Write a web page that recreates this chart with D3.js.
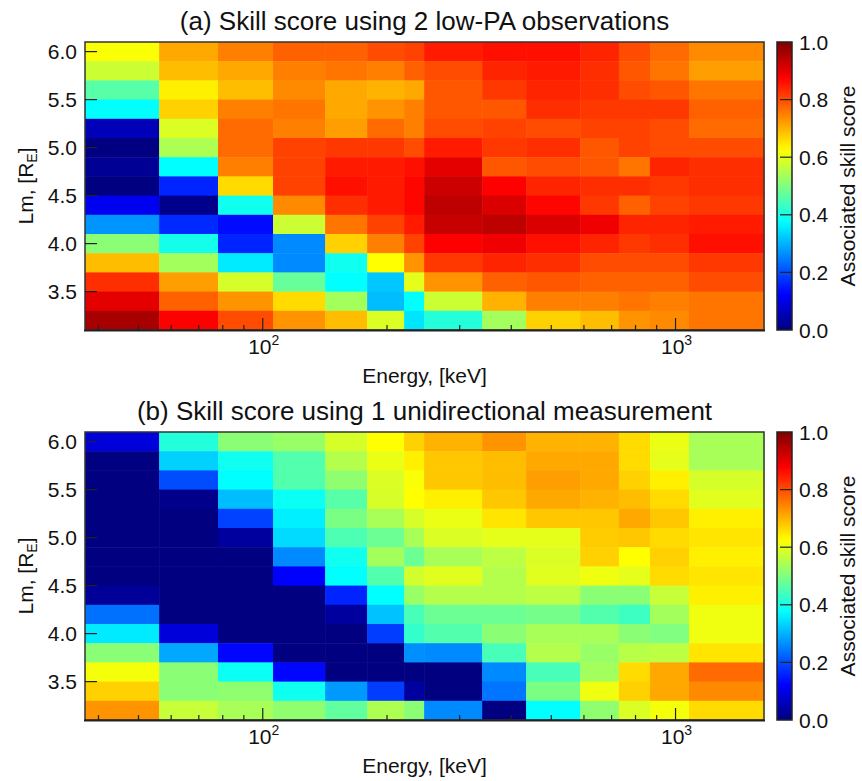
<!DOCTYPE html>
<html>
<head>
<meta charset="utf-8">
<script src="https://cdn.jsdelivr.net/npm/d3@7"></script>
<style>
  html, body { margin: 0; padding: 0; background: #fff; }
  svg text { font-family: "Liberation Sans", Arial, Helvetica, sans-serif; fill: #111; }
</style>
</head>
<body>
<svg id="chart" width="862" height="781"></svg>
<script>
// Energy bin edges [keV] (log axis)
const energyEdges = [37.1, 56.1, 77.9, 105.9, 141.6, 179, 220, 246, 340, 434.5, 587.5, 729, 867, 1078, 1638];
// Lm bin edges, top to bottom [R_E]
const lmEdges = [6.1, 5.9, 5.7, 5.5, 5.3, 5.1, 4.9, 4.7, 4.5, 4.3, 4.1, 3.9, 3.7, 3.5, 3.3, 3.1];
const yTicks = [3.5, 4.0, 4.5, 5.0, 5.5, 6.0];
const xMajorTicks = [100, 1000];
const xMajorLabels = ["2", "3"];
const xMinorTicks = [40, 50, 60, 70, 80, 90, 200, 300, 400, 500, 600, 700, 800, 900];
const cbTicks = [0.0, 0.2, 0.4, 0.6, 0.8, 1.0];
const titles = ["(a) Skill score using 2 low-PA observations", "(b) Skill score using 1 unidirectional measurement"];

// Panel (a) skill scores, rows top (Lm 6.0) to bottom (Lm 3.2)
const skillA = [
  [0.62, 0.71, 0.75, 0.78, 0.78, 0.80, 0.81, 0.85, 0.86, 0.86, 0.84, 0.80, 0.77, 0.74],
  [0.575, 0.69, 0.71, 0.75, 0.76, 0.75, 0.78, 0.80, 0.84, 0.85, 0.83, 0.79, 0.76, 0.72],
  [0.46, 0.64, 0.69, 0.74, 0.71, 0.70, 0.71, 0.79, 0.82, 0.84, 0.83, 0.80, 0.79, 0.76],
  [0.375, 0.67, 0.75, 0.76, 0.71, 0.73, 0.75, 0.79, 0.79, 0.83, 0.82, 0.82, 0.82, 0.78],
  [0.056, 0.59, 0.77, 0.75, 0.72, 0.77, 0.75, 0.80, 0.81, 0.80, 0.81, 0.81, 0.80, 0.77],
  [0.0, 0.545, 0.77, 0.81, 0.82, 0.82, 0.80, 0.85, 0.82, 0.83, 0.79, 0.81, 0.80, 0.80],
  [0.02, 0.375, 0.75, 0.81, 0.85, 0.85, 0.86, 0.90, 0.79, 0.80, 0.79, 0.76, 0.84, 0.83],
  [0.0, 0.16, 0.66, 0.81, 0.86, 0.85, 0.87, 0.925, 0.875, 0.84, 0.83, 0.83, 0.82, 0.83],
  [0.11, 0.01, 0.39, 0.74, 0.83, 0.85, 0.87, 0.94, 0.91, 0.87, 0.82, 0.78, 0.81, 0.82],
  [0.27, 0.165, 0.135, 0.575, 0.76, 0.81, 0.85, 0.93, 0.94, 0.91, 0.89, 0.84, 0.84, 0.85],
  [0.51, 0.395, 0.16, 0.26, 0.67, 0.75, 0.81, 0.875, 0.89, 0.86, 0.84, 0.82, 0.83, 0.86],
  [0.69, 0.535, 0.355, 0.26, 0.39, 0.625, 0.73, 0.82, 0.84, 0.83, 0.80, 0.80, 0.80, 0.82],
  [0.83, 0.72, 0.585, 0.475, 0.375, 0.32, 0.60, 0.73, 0.78, 0.79, 0.78, 0.78, 0.78, 0.80],
  [0.90, 0.78, 0.73, 0.66, 0.535, 0.31, 0.375, 0.575, 0.70, 0.75, 0.75, 0.76, 0.75, 0.76],
  [0.96, 0.875, 0.80, 0.73, 0.69, 0.59, 0.35, 0.41, 0.535, 0.67, 0.69, 0.73, 0.74, 0.76]
];
// Panel (b) skill scores, rows top (Lm 6.0) to bottom (Lm 3.2)
const skillB = [
  [0.09, 0.41, 0.51, 0.525, 0.585, 0.625, 0.67, 0.70, 0.73, 0.70, 0.70, 0.66, 0.605, 0.54],
  [0.0, 0.33, 0.39, 0.455, 0.55, 0.605, 0.64, 0.68, 0.69, 0.71, 0.71, 0.66, 0.60, 0.54],
  [0.0, 0.20, 0.375, 0.455, 0.515, 0.59, 0.62, 0.68, 0.69, 0.72, 0.71, 0.67, 0.64, 0.585],
  [0.0, 0.01, 0.31, 0.385, 0.46, 0.585, 0.625, 0.64, 0.68, 0.71, 0.70, 0.69, 0.66, 0.595],
  [0.0, 0.0, 0.19, 0.36, 0.495, 0.54, 0.585, 0.605, 0.65, 0.68, 0.68, 0.71, 0.68, 0.64],
  [0.0, 0.0, 0.03, 0.34, 0.45, 0.48, 0.54, 0.59, 0.60, 0.60, 0.675, 0.68, 0.66, 0.65],
  [0.0, 0.0, 0.0, 0.26, 0.39, 0.535, 0.48, 0.54, 0.56, 0.59, 0.67, 0.625, 0.67, 0.64],
  [0.0, 0.0, 0.0, 0.125, 0.375, 0.455, 0.58, 0.595, 0.55, 0.595, 0.61, 0.60, 0.66, 0.65],
  [0.025, 0.0, 0.0, 0.0, 0.16, 0.375, 0.525, 0.55, 0.55, 0.56, 0.51, 0.51, 0.57, 0.64],
  [0.235, 0.0, 0.0, 0.0, 0.03, 0.315, 0.445, 0.48, 0.48, 0.49, 0.455, 0.435, 0.535, 0.61],
  [0.355, 0.09, 0.0, 0.0, 0.0, 0.185, 0.425, 0.455, 0.51, 0.54, 0.54, 0.51, 0.50, 0.61],
  [0.51, 0.29, 0.13, 0.0, 0.0, 0.0, 0.265, 0.26, 0.445, 0.55, 0.525, 0.555, 0.56, 0.65],
  [0.615, 0.51, 0.385, 0.13, 0.0, 0.0, 0.0, 0.0, 0.26, 0.445, 0.535, 0.66, 0.71, 0.77],
  [0.67, 0.51, 0.515, 0.39, 0.275, 0.185, 0.03, 0.0, 0.24, 0.495, 0.61, 0.67, 0.71, 0.74],
  [0.73, 0.57, 0.54, 0.515, 0.47, 0.545, 0.51, 0.26, 0.0, 0.375, 0.515, 0.59, 0.615, 0.66]
];

// Jet colormap
function jet(t) {
  const c = v => Math.max(0, Math.min(1, v));
  const r = c(1.5 - Math.abs(4 * t - 3));
  const g = c(1.5 - Math.abs(4 * t - 2));
  const b = c(1.5 - Math.abs(4 * t - 1));
  return d3.rgb(r * 255, g * 255, b * 255).toString();
}
const color = d3.scaleSequential(jet).domain([0, 1]);

const svg = d3.select("#chart");
const W = { left: 85, right: 764, cbLeft: 777, cbRight: 792 };
const panels = [
  { top: 42, bottom: 330, data: skillA, title: titles[0] },
  { top: 432, bottom: 720, data: skillB, title: titles[1] }
];

const x = d3.scaleLog().domain([energyEdges[0], energyEdges[energyEdges.length - 1]]).range([W.left, W.right]);

svg.append("rect").attr("width", 862).attr("height", 781).attr("fill", "#fff");

const defs = svg.append("defs");
const grad = defs.append("linearGradient").attr("id", "jetgrad")
  .attr("x1", 0).attr("y1", 1).attr("x2", 0).attr("y2", 0);
d3.range(0, 1.0001, 0.02).forEach(t => {
  grad.append("stop").attr("offset", t).attr("stop-color", color(t));
});

panels.forEach(p => {
  const y = d3.scaleLinear().domain([3.1, 6.1]).range([p.bottom, p.top]);
  const g = svg.append("g");

  // cells
  p.data.forEach((row, i) => {
    row.forEach((v, j) => {
      const x0 = x(energyEdges[j]), x1 = x(energyEdges[j + 1]);
      const y0 = y(lmEdges[i]), y1 = y(lmEdges[i + 1]);
      g.append("rect")
        .attr("x", x0).attr("y", y0)
        .attr("width", x1 - x0 + 0.5).attr("height", y1 - y0 + 0.5)
        .attr("fill", color(v));
    });
  });

  // frame
  g.append("rect").attr("x", W.left).attr("y", p.top)
    .attr("width", W.right - W.left).attr("height", p.bottom - p.top)
    .attr("fill", "none").attr("stroke", "#333").attr("stroke-width", 1.5);
  g.append("line").attr("x1", W.left - 1).attr("x2", W.right + 1)
    .attr("y1", p.bottom + 0.5).attr("y2", p.bottom + 0.5)
    .attr("stroke", "#222").attr("stroke-width", 2);

  // x ticks
  xMinorTicks.forEach(t => {
    g.append("line").attr("x1", x(t)).attr("x2", x(t))
      .attr("y1", p.bottom).attr("y2", p.bottom - 5)
      .attr("stroke", "#222").attr("stroke-width", 1.2);
  });
  xMajorTicks.forEach((t, k) => {
    g.append("line").attr("x1", x(t)).attr("x2", x(t))
      .attr("y1", p.bottom).attr("y2", p.bottom - 12)
      .attr("stroke", "#222").attr("stroke-width", 1.2);
    const tx = g.append("text").attr("x", x(t) + 1).attr("y", p.bottom + 24)
      .attr("text-anchor", "middle").attr("font-size", 21);
    tx.append("tspan").text("10");
    tx.append("tspan").attr("dy", -9).attr("font-size", 14).text(xMajorLabels[k]);
  });

  // y ticks
  yTicks.forEach(t => {
    g.append("line").attr("x1", W.left).attr("x2", W.left + 12)
      .attr("y1", y(t)).attr("y2", y(t))
      .attr("stroke", "#222").attr("stroke-width", 1.2);
    g.append("text").attr("x", W.left - 8).attr("y", y(t))
      .attr("dy", "0.36em").attr("text-anchor", "end").attr("font-size", 21)
      .text(d3.format(".1f")(t));
  });

  // title
  g.append("text").attr("x", (W.left + W.right) / 2).attr("y", p.top - 12)
    .attr("text-anchor", "middle").attr("font-size", 26).text(p.title);

  // x label
  g.append("text").attr("x", (W.left + W.right) / 2).attr("y", p.bottom + 53)
    .attr("text-anchor", "middle").attr("font-size", 21).text("Energy, [keV]");

  // y label
  const yl = g.append("text")
    .attr("transform", `translate(33,${(p.top + p.bottom) / 2}) rotate(-90)`)
    .attr("text-anchor", "middle").attr("font-size", 21);
  yl.append("tspan").text("Lm, [R");
  yl.append("tspan").attr("font-size", 14).attr("dy", 4).text("E");
  yl.append("tspan").attr("dy", -4).text("]");

  // colorbar
  const cy = d3.scaleLinear().domain([0, 1]).range([p.bottom, p.top]);
  g.append("rect").attr("x", W.cbLeft).attr("y", p.top)
    .attr("width", W.cbRight - W.cbLeft).attr("height", p.bottom - p.top)
    .attr("fill", "url(#jetgrad)").attr("stroke", "#222").attr("stroke-width", 1.5);
  cbTicks.forEach(t => {
    if (t > 0 && t < 1) {
      g.append("line").attr("x1", W.cbLeft + 3).attr("x2", W.cbRight)
        .attr("y1", cy(t)).attr("y2", cy(t))
        .attr("stroke", "#222").attr("stroke-width", 1.2);
    }
    g.append("text").attr("x", W.cbRight + 7).attr("y", cy(t))
      .attr("dy", "0.36em").attr("font-size", 21).text(d3.format(".1f")(t));
  });
  g.append("text")
    .attr("transform", `translate(855,${(p.top + p.bottom) / 2}) rotate(-90)`)
    .attr("text-anchor", "middle").attr("font-size", 21).text("Associated skill score");
});
</script>
</body>
</html>
